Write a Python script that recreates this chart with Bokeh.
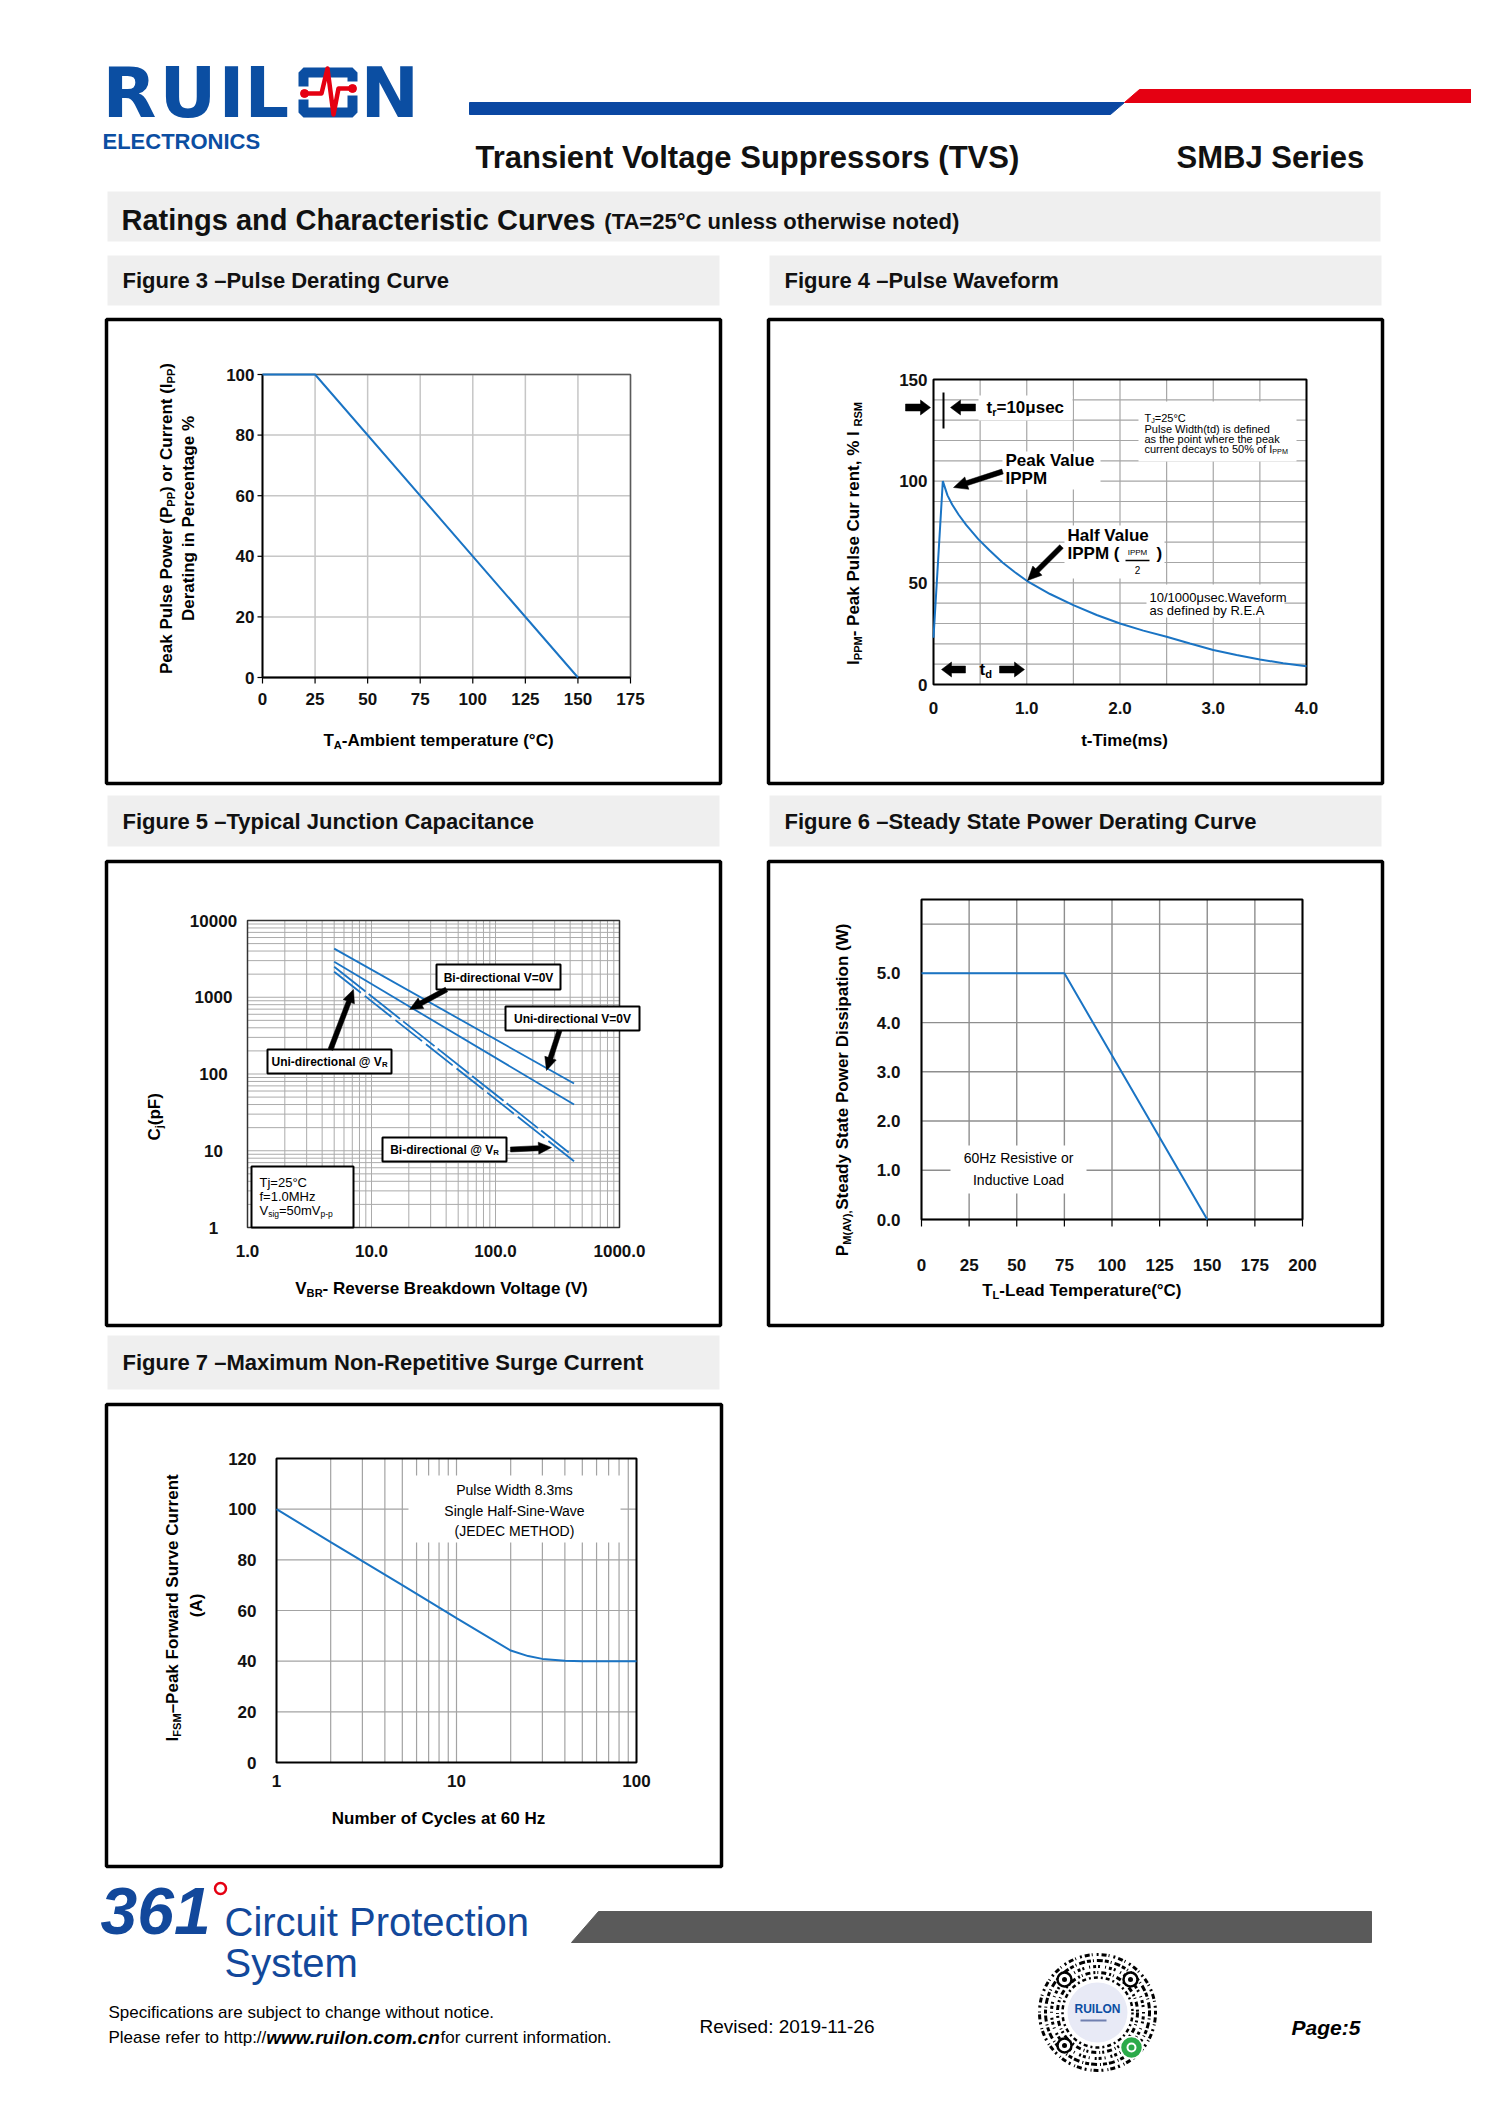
import math
from bokeh.plotting import figure
from bokeh.models import Range1d, CoordinateMapping, LinearScale, LogScale
from bokeh.core.properties import value
from bokeh.embed import file_html
from bokeh.resources import INLINE

# ---------------- chart data ----------------
fig3_temperature = [0, 25, 150]
fig3_derating = [100, 100, 0]
fig3_xticks = [0, 25, 50, 75, 100, 125, 150, 175]
fig3_yticks = [0, 20, 40, 60, 80, 100]

fig4_time_ms = [0.0, 0.1, 0.15, 0.2, 0.27, 0.35, 0.48, 0.6, 0.74, 0.87, 1.0, 1.25,
                1.5, 1.75, 2.0, 2.25, 2.5, 2.75, 3.0, 3.25, 3.5, 3.75, 4.0]
fig4_current = [23, 100, 93, 88.5, 83.5, 78.5, 71.5, 66, 60, 55.3, 51, 44.5,
                39, 34.2, 30, 26.5, 23.5, 20.2, 17, 14.5, 12.3, 10.5, 9]
fig4_xticks = [0, 1, 2, 3, 4]
fig4_xlabels = ["0", "1.0", "2.0", "3.0", "4.0"]
fig4_yticks = [0, 50, 100, 150]
fig4_xgrid = [0, 0.5, 1.0, 1.5, 2.0, 2.5, 3.0, 3.5, 4.0]
fig4_ygrid = [0, 10, 20, 30, 40, 50, 60, 70, 80, 90, 100, 110, 120, 130, 140, 150]

fig5_vbr = [5, 430]
fig5_uni_0v = [4300, 75]
fig5_bi_0v = [2900, 40]
fig5_vbr_uni_vr = [5, 390]
fig5_uni_vr = [2500, 9.5]
fig5_bi_vr = [2150, 7.3]
fig5_xticks = [1, 10, 100, 1000]
fig5_xlabels = ["1.0", "10.0", "100.0", "1000.0"]
fig5_yticks = [1, 10, 100, 1000, 10000]
fig5_ylabels = ["1", "10", "100", "1000", "10000"]

fig6_temperature = [0, 75, 150]
fig6_power = [5.0, 5.0, 0.0]
fig6_xticks = [0, 25, 50, 75, 100, 125, 150, 175, 200]
fig6_yticks = [0, 1, 2, 3, 4, 5]
fig6_ylabels = ["0.0", "1.0", "2.0", "3.0", "4.0", "5.0"]
fig6_ygrid = [0, 1, 2, 3, 4, 5, 6]

fig7_cycles = [1, 2, 3, 5, 7, 10, 14, 20, 25, 30, 40, 50, 100]
fig7_current = [100, 87, 79.5, 70, 63.7, 57, 50.8, 44.2, 42, 40.9, 40.2, 40, 40]
fig7_xticks = [1, 10, 100]
fig7_yticks = [0, 20, 40, 60, 80, 100, 120]

# ---------------- page ----------------
FONT = "Liberation Sans"
BLUE = "#1a74c4"
LOGO_BLUE = "#0b4ea2"
RED = "#e50012"

PW, PH = 1471, 2089
p = figure(width=PW, height=PH, x_range=Range1d(0, PW), y_range=Range1d(PH, 0),
           output_backend="svg", toolbar_location=None, min_border=0,
           x_axis_location=None, y_axis_location=None)
p.xgrid.grid_line_color = None
p.ygrid.grid_line_color = None
p.outline_line_color = None
p.background_fill_color = "white"
p.border_fill_color = "white"

# Arial-compatible metrics (Liberation Sans) for composing sub-scripted labels
_caps = "ABCDEFGHIJKLMNOPQRSTUVWXYZ"
_low = "abcdefghijklmnopqrstuvwxyz"
REG = dict(zip(_caps, [667, 667, 722, 722, 667, 611, 778, 722, 278, 500, 667, 556, 833, 722, 778, 667, 778, 722, 667, 611, 722, 667, 944, 667, 667, 611]))
REG.update(zip(_low, [556, 556, 500, 556, 556, 278, 556, 556, 222, 222, 500, 222, 833, 556, 556, 556, 556, 333, 500, 278, 556, 500, 722, 500, 500, 500]))
REG.update({" ": 278, "(": 333, ")": 333, "-": 333, ".": 278, ",": 278, "/": 278, ":": 278, "=": 584,
            "%": 889, "@": 1015, "°": 400, "μ": 576, "–": 556})
BOLD = dict(zip(_caps, [722, 722, 722, 722, 667, 611, 778, 722, 278, 556, 722, 611, 833, 722, 778, 667, 778, 722, 667, 611, 722, 667, 944, 667, 667, 611]))
BOLD.update(zip(_low, [556, 611, 556, 611, 556, 333, 611, 611, 278, 278, 556, 278, 889, 611, 611, 611, 611, 389, 556, 333, 611, 556, 778, 556, 556, 500]))
BOLD.update({" ": 278, "(": 333, ")": 333, "-": 333, ".": 278, ",": 278, "/": 278, ":": 333, "=": 584,
             "%": 889, "@": 975, "°": 400, "μ": 611, "–": 556})


def tw(s, size, bold=False):
    tab = BOLD if bold else REG
    return sum(tab.get(c, 556) for c in s) * size / 1000.0


def T(x, y, s, size, bold=False, italic=False, color="black", align="left", base="middle",
      angle=0.0, cm=None, font=FONT):
    style = (("bold " if bold else "") + ("italic" if italic else "")).strip() or "normal"
    r = p.text(x=[x], y=[y], text=[s], text_font=value(font), text_font_size=f"{size}px",
               text_font_style=style, text_color=color, text_align=align, text_baseline=base,
               angle=angle)
    if cm is not None:
        r.coordinates = cm
    return r


def rich(x, y, segs, size, bold=False, align="left", vertical=False, color="black", italic=False):
    ws = [tw(t, size * (0.65 if sub else 1.0), bold) for t, sub in segs]
    total = sum(ws)
    pos = {"left": 0.0, "center": -total / 2.0, "right": -total}[align]
    for (t, sub), w in zip(segs, ws):
        fs = round(size * 0.65, 1) if sub else size
        off = size * 0.28 if sub else 0.0
        if vertical:
            T(x + off, y - pos, t, fs, bold, italic, color, "left", "middle", angle=math.pi / 2)
        else:
            T(x + pos, y + off, t, fs, bold, italic, color, "left", "middle")
        pos += w


def box(l, t, r, b, fill=None, line="black", lw=1.0):
    p.quad(left=[l], right=[r], top=[t], bottom=[b], fill_color=fill,
           line_color=line, line_width=lw)


def block_arrow(x0, y0, x1, y1, shaft=6.0, head_len=11.0, head_w=15.0, color="black"):
    dx, dy = x1 - x0, y1 - y0
    L = math.hypot(dx, dy)
    ux, uy = dx / L, dy / L
    nx, ny = -uy, ux
    bx, by = x1 - ux * head_len, y1 - uy * head_len
    pts = [(x0 + nx * shaft / 2, y0 + ny * shaft / 2), (bx + nx * shaft / 2, by + ny * shaft / 2),
           (bx + nx * head_w / 2, by + ny * head_w / 2), (x1, y1),
           (bx - nx * head_w / 2, by - ny * head_w / 2), (bx - nx * shaft / 2, by - ny * shaft / 2),
           (x0 - nx * shaft / 2, y0 - ny * shaft / 2)]
    p.patch([q[0] for q in pts], [q[1] for q in pts], fill_color=color, line_color=color, line_width=0.5)


ID = (0, 4000)


def _scale(log):
    return LogScale() if log else LinearScale()


class Chart:
    def __init__(self, xr, yr, px, py, xlog=False, ylog=False):
        self.xr, self.yr, self.px, self.py = xr, yr, px, py
        self.m = CoordinateMapping(x_source=Range1d(*xr), y_source=Range1d(*yr),
                                   x_scale=_scale(xlog), y_scale=_scale(ylog),
                                   x_target=Range1d(*px), y_target=Range1d(py[1], py[0]))
        self.mx = CoordinateMapping(x_source=Range1d(*xr), y_source=Range1d(*ID),
                                    x_scale=_scale(xlog), y_scale=LinearScale(),
                                    x_target=Range1d(*px), y_target=Range1d(*ID))
        self.my = CoordinateMapping(x_source=Range1d(*ID), y_source=Range1d(*yr),
                                    x_scale=LinearScale(), y_scale=_scale(ylog),
                                    x_target=Range1d(*ID), y_target=Range1d(py[1], py[0]))

    def grid(self, xs, ys, color, width):
        x0, x1 = self.xr
        y0, y1 = self.yr
        r = p.segment(x0=list(xs), y0=[y0] * len(xs), x1=list(xs), y1=[y1] * len(xs),
                      line_color=color, line_width=width)
        r.coordinates = self.m
        r = p.segment(x0=[x0] * len(ys), y0=list(ys), x1=[x1] * len(ys), y1=list(ys),
                      line_color=color, line_width=width)
        r.coordinates = self.m

    def frame(self, color="black", width=2.0):
        r = p.quad(left=[self.xr[0]], right=[self.xr[1]], bottom=[self.yr[0]], top=[self.yr[1]],
                   fill_color=None, line_color=color, line_width=width)
        r.coordinates = self.m

    def axis_lines(self, color="black", width=1.5):
        x0, x1 = self.xr
        y0, y1 = self.yr
        r = p.segment(x0=[x0, x0], y0=[y0, y0], x1=[x1, x0], y1=[y0, y1],
                      line_color=color, line_width=width)
        r.coordinates = self.m

    def xtickmarks(self, ticks, length, color="black", width=1.2):
        yb = self.py[1]
        r = p.segment(x0=list(ticks), y0=[yb] * len(ticks), x1=list(ticks), y1=[yb + length] * len(ticks),
                      line_color=color, line_width=width)
        r.coordinates = self.mx

    def ytickmarks(self, ticks, length, color="black", width=1.2):
        xl = self.px[0]
        r = p.segment(x0=[xl - length] * len(ticks), y0=list(ticks), x1=[xl] * len(ticks), y1=list(ticks),
                      line_color=color, line_width=width)
        r.coordinates = self.my

    def xticklabels(self, ticks, labels, y, size=17):
        r = p.text(x=list(ticks), y=[y] * len(ticks), text=[str(s) for s in labels],
                   text_font=value(FONT), text_font_size=f"{size}px", text_align="center",
                   text_baseline="middle", text_color="#111111", text_font_style="bold")
        r.coordinates = self.mx

    def yticklabels(self, ticks, labels, x, size=17, align="right"):
        r = p.text(x=[x] * len(ticks), y=list(ticks), text=[str(s) for s in labels],
                   text_font=value(FONT), text_font_size=f"{size}px", text_align=align,
                   text_baseline="middle", text_color="#111111", text_font_style="bold")
        r.coordinates = self.my

    def line(self, xs, ys, **kw):
        r = p.line(x=list(xs), y=list(ys), **kw)
        r.coordinates = self.m
        return r


# ---------------- page header ----------------
for ch, lx in zip("RUIL", [102, 159, 218, 244]):
    T(lx, 92, ch, 70, bold=True, color=LOGO_BLUE, font="DejaVu Sans")
box(303, 72, 352, 112, fill=None, line=LOGO_BLUE, lw=10)
box(296, 86, 310, 99, fill="white", line=None)
box(346, 81, 359, 95, fill="white", line=None)
p.line([305, 321, 327, 333, 338, 351], [93, 93, 68, 114, 88, 88], line_color=RED, line_width=4.5,
       line_join="round")
p.scatter(x=[304, 352], y=[93, 88], size=8, marker="circle", fill_color=RED, line_color=RED)
T(360, 92, "N", 70, bold=True, color=LOGO_BLUE, font="DejaVu Sans")
T(102, 141, "ELECTRONICS", 22, bold=True, color=LOGO_BLUE)

p.patch([469, 1124, 1110, 469], [102, 102, 114, 114], fill_color="#0a47a2", line_color="#0a47a2")
p.patch([1139, 1487, 1487, 1124], [89, 89, 102, 102], fill_color=RED, line_color=RED)

T(475, 157, "Transient Voltage Suppressors (TVS)", 31, bold=True, color="#111111")
T(1176, 157, "SMBJ Series", 31, bold=True, color="#111111")

box(107, 191, 1380, 241, fill="#efefef", line=None)
ttl = "Ratings and Characteristic Curves"
T(121, 219, ttl, 29, bold=True, color="#111111")
T(121 + tw(ttl, 29, True) + 9, 221, "(TA=25°C unless otherwise noted)", 22, bold=True, color="#111111")

# panel headers and frames
panels = [
    ("Figure 3 –Pulse Derating Curve", 107, 255, 719, 305, 106, 319, 720, 783),
    ("Figure 4 –Pulse Waveform", 769, 255, 1381, 305, 768, 319, 1382, 783),
    ("Figure 5 –Typical Junction Capacitance", 107, 795, 719, 846, 106, 861, 720, 1325),
    ("Figure 6 –Steady State Power Derating Curve", 769, 795, 1381, 846, 768, 861, 1382, 1325),
    ("Figure 7 –Maximum Non-Repetitive Surge Current", 107, 1335, 719, 1389, 106, 1404, 721, 1866),
]
for title, hl, ht, hr, hb, bl, bt, br, bb in panels:
    box(hl, ht, hr, hb, fill="#efefef", line=None)
    T(hl + 15, (ht + hb) / 2, title, 22, bold=True, color="#111111")
    box(bl, bt, br, bb, fill=None, line="black", lw=3.5)

# ---------------- Figure 3 ----------------
c3 = Chart((0, 175), (0, 100), (262, 630), (374, 677))
c3.grid(fig3_xticks, fig3_yticks, "#c6c6c6", 1.5)
c3.frame("#5a5a5a", 1.5)
c3.axis_lines("black", 1.8)
c3.xtickmarks(fig3_xticks, 6)
c3.ytickmarks(fig3_yticks, 5)
c3.line(fig3_temperature, fig3_derating, line_color=BLUE, line_width=2)
c3.xticklabels(fig3_xticks, fig3_xticks, 698)
c3.yticklabels(fig3_yticks, fig3_yticks, 254)
rich(438, 740, [("T", 0), ("A", 1), ("-Ambient temperature (°C)", 0)], 17, bold=True, align="center")
rich(166, 518, [("Peak Pulse Power (P", 0), ("PP", 1), (") or Current (I", 0), ("PP", 1), (")", 0)],
     17, bold=True, align="center", vertical=True)
rich(188, 518, [("Derating in Percentage %", 0)], 17, bold=True, align="center", vertical=True)

# ---------------- Figure 4 ----------------
c4 = Chart((0, 4), (0, 150), (933, 1306), (379, 684))
c4.grid(fig4_xgrid, fig4_ygrid, "#a6a6a6", 1.2)
c4.frame("black", 2)
for l, t, r, b in [(978, 395, 1072, 420), (1138, 401, 1296, 461), (1002, 451, 1100, 489),
                   (1064, 525, 1164, 578), (1146, 584, 1284, 617)]:
    box(l, t, r, b, fill="white", line=None)
c4.line(fig4_time_ms, fig4_current, line_color=BLUE, line_width=2)
c4.xticklabels(fig4_xticks, fig4_xlabels, 707)
c4.yticklabels(fig4_yticks, fig4_yticks, 927)
T(1124, 740, "t-Time(ms)", 17, bold=True, align="center")
rich(853, 533, [("I", 0), ("PPM", 1), (" - Peak Pulse Cur rent, % I", 0), ("RSM", 1)], 17, bold=True,
     align="center", vertical=True)
block_arrow(905, 407, 930, 407, shaft=7, head_len=10, head_w=15)
p.segment(x0=[943], y0=[392], x1=[943], y1=[428], line_color="black", line_width=2)
block_arrow(975, 407, 950, 407, shaft=7, head_len=10, head_w=15)
rich(986, 407, [("t", 0), ("r", 1), ("=10μsec", 0)], 17, bold=True)
rich(1144, 417, [("T", 0), ("J", 1), (" =25°C", 0)], 11)
T(1144, 428, "Pulse Width(td) is defined", 11)
T(1144, 438, "as the point where the peak", 11)
rich(1144, 448, [("current decays to 50% of I", 0), ("PPM", 1)], 11)
T(1005, 460, "Peak Value", 17, bold=True)
T(1005, 478, "IPPM", 17, bold=True)
block_arrow(1002, 471, 953, 487, shaft=5, head_len=14, head_w=13)
T(1067, 535, "Half Value", 17, bold=True)
T(1067, 553, "IPPM (", 17, bold=True)
T(1137, 552, "IPPM", 8, align="center")
p.segment(x0=[1125], y0=[560], x1=[1149], y1=[560], line_color="black", line_width=1.5)
T(1137, 569, "2", 10, align="center")
T(1156, 553, ")", 17, bold=True)
block_arrow(1061, 546, 1027, 580, shaft=5, head_len=14, head_w=13)
T(1149, 597, "10/1000μsec.Waveform", 13)
T(1149, 610, "as defined by R.E.A", 13)
block_arrow(965, 669, 941, 669, shaft=7, head_len=10, head_w=15)
rich(979, 669, [("t", 0), ("d", 1)], 17, bold=True)
block_arrow(999, 669, 1024, 669, shaft=7, head_len=10, head_w=15)

# ---------------- Figure 5 ----------------
c5 = Chart((1, 1000), (1, 10000), (247, 619), (920, 1227), xlog=True, ylog=True)
fig5_xgrid = [m * d for d in (1, 10, 100) for m in range(1, 10)] + [1000]
fig5_ygrid = [m * d for d in (1, 10, 100, 1000) for m in range(1, 10)] + [10000]
c5.grid(fig5_xgrid, fig5_ygrid, "#ababab", 1.0)
c5.frame("#333333", 1.5)
c5.line(fig5_vbr, fig5_uni_0v, line_color=BLUE, line_width=1.8)
c5.line(fig5_vbr, fig5_bi_0v, line_color=BLUE, line_width=1.8)
c5.line(fig5_vbr_uni_vr, fig5_uni_vr, line_color=BLUE, line_width=1.8, line_dash="40 4")
c5.line(fig5_vbr, fig5_bi_vr, line_color=BLUE, line_width=1.8, line_dash="34 5")
c5.xticklabels(fig5_xticks, fig5_xlabels, 1250)
c5.yticklabels(fig5_yticks, fig5_ylabels, 213, align="center")
rich(444, 1288, [("V", 0), ("BR", 1), (" - Reverse Breakdown Voltage (V)", 0)], 17, bold=True, align="center")
rich(154, 1114, [("C", 0), ("j", 1), (" (pF)", 0)], 17, bold=True, align="center", vertical=True)
for l, t, r, b in [(436, 964, 560, 989), (505, 1006, 639, 1030), (267, 1049, 391, 1073),
                   (382, 1137, 506, 1161), (251, 1166, 353, 1227)]:
    box(l, t, r, b, fill="white", line="black", lw=2)
T(498, 977, "Bi-directional V=0V", 12, bold=True, align="center")
T(572, 1018, "Uni-directional V=0V", 12, bold=True, align="center")
rich(329, 1061, [("Uni-directional @ V", 0), ("R", 1)], 12, bold=True, align="center")
rich(444, 1149, [("Bi-directional @ V", 0), ("R", 1)], 12, bold=True, align="center")
T(259, 1182, "Tj=25°C", 13)
T(259, 1196, "f=1.0MHz", 13)
rich(259, 1210, [("V", 0), ("sig", 1), ("=50mV", 0), ("p-p", 1)], 13)
block_arrow(446, 989, 409, 1009, shaft=5, head_len=13, head_w=12)
block_arrow(559, 1030, 546, 1070, shaft=5, head_len=13, head_w=12)
block_arrow(330, 1049, 353, 989, shaft=5, head_len=13, head_w=12)
block_arrow(510, 1149, 551, 1147, shaft=5, head_len=13, head_w=12)

# ---------------- Figure 6 ----------------
c6 = Chart((0, 200), (0, 6.5), (921, 1302), (899, 1219))
c6.grid(fig6_xticks, fig6_ygrid, "#8e8e8e", 1.4)
c6.frame("black", 2)
c6.xtickmarks(fig6_xticks, 7)
box(950, 1145, 1086, 1193, fill="white", line=None)
c6.line(fig6_temperature, fig6_power, line_color=BLUE, line_width=2)
T(1018, 1157, "60Hz Resistive or", 14, align="center")
T(1018, 1179, "Inductive Load", 14, align="center")
c6.xticklabels(fig6_xticks, fig6_xticks, 1264)
c6.yticklabels(fig6_yticks, fig6_ylabels, 900)
rich(1082, 1290, [("T", 0), ("L", 1), ("-Lead Temperature(°C)", 0)], 17, bold=True, align="center")
rich(842, 1087, [("P", 0), ("M(AV),", 1), (" Steady State Power Dissipation (W)", 0)], 17, bold=True,
     align="center", vertical=True)

# ---------------- Figure 7 ----------------
c7 = Chart((1, 100), (0, 120), (276, 636), (1458, 1762), xlog=True)
fig7_xgrid = [m * d for d in (1, 10) for m in range(1, 10)] + [100]
c7.grid(fig7_xgrid, fig7_yticks, "#a3a3a3", 1.2)
c7.frame("black", 2)
box(408, 1475, 620, 1542, fill="white", line=None)
c7.line(fig7_cycles, fig7_current, line_color=BLUE, line_width=2)
T(514, 1489, "Pulse Width 8.3ms", 14, align="center")
T(514, 1510, "Single Half-Sine-Wave", 14, align="center")
T(514, 1530, "(JEDEC METHOD)", 14, align="center")
c7.xticklabels(fig7_xticks, fig7_xticks, 1780)
c7.yticklabels(fig7_yticks, fig7_yticks, 256)
T(438, 1818, "Number of Cycles at 60 Hz", 17, bold=True, align="center")
rich(172, 1605, [("I", 0), ("FSM", 1), (" –Peak Forward Surve Current", 0)], 17, bold=True,
     align="center", vertical=True)
T(196, 1605, "(A)", 17, bold=True, align="center", angle=math.pi / 2)

# ---------------- footer ----------------
FOOT_BLUE = "#12489b"
T(100, 1910, "361", 66, bold=True, italic=True, color=FOOT_BLUE)
p.scatter(x=[220], y=[1888], size=11, marker="circle", fill_color=None, line_color=RED, line_width=2.5)
T(224, 1921, "Circuit Protection", 40, color=FOOT_BLUE)
T(224, 1962, "System", 40, color=FOOT_BLUE)
p.patch([598, 1371, 1371, 571], [1911, 1911, 1942, 1942], fill_color="#5a5a5a", line_color="#5a5a5a")

T(108, 2012, "Specifications are subject to change without notice.", 17)
s1 = "Please refer to http://"
s2 = "www.ruilon.com.cn"
s3 = " for current information."
T(108, 2037, s1, 17)
T(108 + tw(s1, 17), 2037, s2, 19, bold=True, italic=True)
T(108 + tw(s1, 17) + tw(s2, 19, True), 2037, s3, 17)
T(699, 2026, "Revised: 2019-11-26", 19)
T(1291, 2027, "Page:5", 21, bold=True, italic=True)

# mini-program code badge
qx, qy = 1097, 2012
for r, dash, lw in [(58, "2 3 5 2 1 4", 3.0), (52, "4 2 1 3 6 2", 3.0), (46, "1 3 3 2 2 5", 3.0),
                    (40, "5 3 2 2 1 3", 3.0), (35, "2 3 4 3", 2.5)]:
    p.circle(x=[qx], y=[qy], radius=r, fill_color=None, line_color="black", line_width=lw, line_dash=dash)
for ex, ey in [(1064, 1979), (1130, 1979), (1064, 2045)]:
    p.circle(x=[ex], y=[ey], radius=7, fill_color="white", line_color="black", line_width=2.5)
    p.circle(x=[ex], y=[ey], radius=2.5, fill_color="black", line_color=None)
p.circle(x=[qx], y=[qy], radius=30, fill_color="#e8eaf6", line_color=None)
T(qx, 2008, "RUILON", 12, bold=True, color=LOGO_BLUE, align="center")
p.segment(x0=[1080], y0=[2020], x1=[1106], y1=[2020], line_color="#7080b0", line_width=2)
p.circle(x=[1131], y=[2047], radius=11, fill_color="#2baa4a", line_color="white", line_width=1.5)
p.circle(x=[1131], y=[2047], radius=4, fill_color=None, line_color="white", line_width=2)

open("out.html", "w").write(file_html(p, INLINE))
